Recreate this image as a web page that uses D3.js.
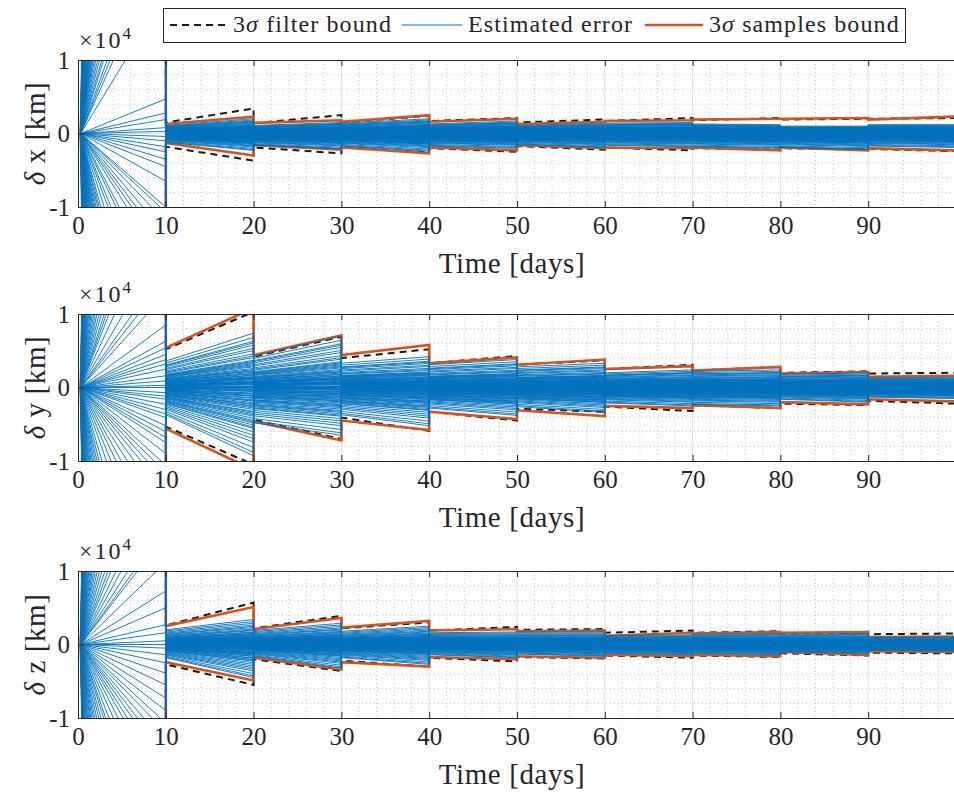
<!DOCTYPE html>
<html>
<head>
<meta charset="utf-8">
<script src="https://cdn.jsdelivr.net/npm/d3@7"></script>
<style>
  body { margin: 0; background: #fff; }
  svg { display: block; }
  text { font-family: "Liberation Serif", "Times New Roman", serif; fill: #262626; }
</style>
</head>
<body>
<svg id="fig" width="954" height="793"></svg>
<script>
// segment limits (measurement update every 10 days)
const days = [0, 10, 20, 30, 40, 50, 60, 70, 80, 90, 100];
const xTicks = [0, 10, 20, 30, 40, 50, 60, 70, 80, 90];
const yTicks = [-1, 0, 1];
const fanStart = 0.3;

// where each sample sits inside the blue band after the first update (-1 .. 1)
const bandPos = [0.05, -0.12, 0.30, -0.40, 0.18, -0.05, 0.62, -0.22, 0.10, -0.70,
  0.42, -0.30, 0.00, 0.25, -0.15, 0.85, -0.50, 0.12, -0.08, 0.35,
  -0.95, 0.20, -0.35, 0.55, -0.02, 0.08, -0.60, 1.00, -0.18, 0.15,
  -0.27, 0.48, -0.10, 0.03, -0.80, 0.28, -0.42, 0.72, -0.06, 0.22,
  -0.55, 0.38, -0.20, 0.92, -1.00, 0.06, -0.32, 0.16, -0.12, 0.50,
  -0.65, 0.02, 0.33, -0.25, 0.78, -0.45, 0.10, -0.88, 0.44, -0.03,
  0.14, -0.16, 0.26, -0.36, 0.07, -0.09, 0.58, -0.24, 0.19, -0.75,
  0.40, -0.28, 0.01, 0.23, -0.13, 0.68, -0.48, 0.11, -0.04, 0.31,
  -0.58, 0.17, -0.38, 0.46, -0.01, 0.09, -0.52, 0.82, -0.19, 0.13,
  -0.29, 0.36, -0.07, 0.04, -0.68, 0.27, -0.44, 0.60, -0.11, 0.21];

// estimated error of each sample at day 10, before the first update (x 1e4 km)
const fanX = [100, 80, 66, 56, 48, 42, 37, 33, 29, 26, 23.5, 21, 19, 17.5, 16, 14.7, 13.5, 12.5,
  11.5, 10.7, 10, 9.3, 8.6, 8, 7.4, 6.8, 6.2, 5.6, 5, 4.5, 4, 3.7, 3.2, 2.9, 2.6, 1.9,
  0.47, 0.28, 0.19, 0.08, 0.03,
  -0.04, -0.1, -0.18, -0.25, -0.35, -0.45, -0.65, -1.0, -1.07, -1.2, -1.37, -1.53, -1.67,
  -1.85, -2.2, -2.4, -2.8, -3.1, -3.6, -4.2, -4.6, -5, -5.5, -6, -6.5, -7, -7.6, -8.2,
  -8.8, -9.5, -10.3, -11.2, -12.2, -13.4, -14.7, -16, -17.5, -19.5, -21.5, -24, -27,
  -30, -34, -39, -45, -52, -62, -75, -90, -110];
const fanY = [100, 80, 66, 55, 46, 39, 33, 28, 24, 21, 18.5, 16.5, 14.5, 13, 11.5, 10.3, 9.2,
  8.2, 7.3, 6.5, 5.8, 5.2, 4.6, 4.1, 3.6, 3.3, 3.0, 2.5, 2.0, 1.64, 1.47, 1.28, 0.85,
  0.63, 0.54, 0.45, 0.38, 0.32, 0.25, 0.16, 0.09, 0.03,
  0.0, -0.07, -0.12, -0.16, -0.23, -0.3, -0.36, -0.41, -0.52, -0.6, -0.68, -0.75, -0.9,
  -1.06, -1.16, -1.28, -1.41, -1.59, -1.82, -2.1, -2.4, -2.8, -3.3, -4, -4.6, -5.2,
  -5.8, -6.5, -7.3, -8.2, -9.2, -10.3, -11.5, -13, -14.5, -16.5, -18.5, -21, -24,
  -28, -33, -39, -46, -55, -66, -80, -100];
const fanZ = [100, 80, 66, 55, 46, 39, 33, 28, 24, 21, 18.5, 16.5, 14.5, 13, 11.5, 10.3, 9.2,
  8.2, 7.3, 6.5, 5.8, 5.1, 4.5, 4, 3.5, 3.1, 2.8, 2.4, 2.1, 1.8, 1.6, 1.5, 1.12,
  0.73, 0.5, 0.27, 0.16, 0.05,
  0.0, -0.05, -0.14, -0.25, -0.39, -0.55, -0.73, -0.9, -1.07, -1.19, -1.35, -1.5,
  -1.64, -1.82, -2, -2.27, -2.6, -3, -3.4, -3.7, -4.2, -4.7, -5.3, -6, -6.7, -7.5,
  -8.4, -9.4, -10.5, -12, -13.5, -15.5, -18, -21, -24, -28, -33, -40, -48, -58,
  -72, -90];

// blue band per segment 10-20 ... 90-100: [top start, top end, bottom start, bottom end]
const bandX = [[0.11, 0.20, -0.12, -0.23], [0.11, 0.15, -0.16, -0.21], [0.14, 0.20, -0.17, -0.24],
  [0.13, 0.17, -0.17, -0.20], [0.11, 0.14, -0.15, -0.19], [0.14, 0.15, -0.16, -0.18],
  [0.13, 0.12, -0.18, -0.20], [0.10, 0.10, -0.19, -0.22], [0.12, 0.12, -0.17, -0.19]];
const bandY = [[0.36, 0.74, -0.37, -0.93], [0.43, 0.70, -0.48, -0.65], [0.33, 0.42, -0.37, -0.52],
  [0.31, 0.38, -0.28, -0.38], [0.28, 0.33, -0.26, -0.34], [0.20, 0.24, -0.21, -0.25],
  [0.22, 0.24, -0.23, -0.25], [0.18, 0.20, -0.16, -0.20], [0.13, 0.14, -0.13, -0.15]];
const bandZ = [[0.20, 0.34, -0.18, -0.45], [0.19, 0.29, -0.16, -0.32], [0.18, 0.25, -0.18, -0.27],
  [0.16, 0.17, -0.14, -0.18], [0.17, 0.17, -0.13, -0.16], [0.12, 0.13, -0.12, -0.14],
  [0.14, 0.15, -0.12, -0.14], [0.14, 0.15, -0.10, -0.12], [0.10, 0.10, -0.08, -0.09]];

// 3 sigma bounds per segment 0-10 ... 90-100: [upper start, upper end, lower start, lower end]
const samplesX = [[0, 40, 0, -40], [0.13, 0.23, -0.13, -0.30], [0.145, 0.18, -0.16, -0.22], [0.16, 0.25, -0.19, -0.27],
  [0.16, 0.20, -0.19, -0.23], [0.13, 0.16, -0.16, -0.20], [0.17, 0.18, -0.19, -0.20],
  [0.19, 0.20, -0.19, -0.23], [0.20, 0.21, -0.19, -0.23], [0.19, 0.23, -0.20, -0.23]];
const filterX = [[0, 45, 0, -45], [0.15, 0.34, -0.18, -0.37], [0.14, 0.25, -0.19, -0.27], [0.15, 0.24, -0.18, -0.26],
  [0.17, 0.21, -0.20, -0.25], [0.15, 0.19, -0.17, -0.22], [0.17, 0.21, -0.19, -0.23],
  [0.18, 0.21, -0.20, -0.22], [0.19, 0.20, -0.20, -0.22], [0.20, 0.21, -0.21, -0.24]];
const samplesY = [[0, 40, 0, -40], [0.54, 1.08, -0.56, -1.12], [0.44, 0.71, -0.46, -0.72], [0.44, 0.58, -0.45, -0.58],
  [0.33, 0.41, -0.33, -0.43], [0.31, 0.38, -0.31, -0.39], [0.25, 0.29, -0.25, -0.28],
  [0.23, 0.28, -0.24, -0.28], [0.19, 0.21, -0.20, -0.23], [0.145, 0.16, -0.16, -0.19]];
const filterY = [[0, 45, 0, -45], [0.52, 1.03, -0.53, -1.05], [0.42, 0.69, -0.44, -0.70], [0.40, 0.52, -0.41, -0.59],
  [0.33, 0.43, -0.33, -0.45], [0.31, 0.37, -0.29, -0.33], [0.25, 0.31, -0.26, -0.32],
  [0.23, 0.28, -0.24, -0.28], [0.20, 0.22, -0.22, -0.24], [0.19, 0.20, -0.18, -0.22]];
const samplesZ = [[0, 40, 0, -40], [0.25, 0.51, -0.24, -0.49], [0.21, 0.36, -0.18, -0.34], [0.23, 0.32, -0.24, -0.30],
  [0.19, 0.21, -0.17, -0.20], [0.18, 0.19, -0.16, -0.18], [0.12, 0.16, -0.14, -0.16],
  [0.15, 0.17, -0.14, -0.16], [0.16, 0.17, -0.10, -0.14], [0.10, 0.11, -0.09, -0.10]];
const filterZ = [[0, 45, 0, -45], [0.26, 0.57, -0.27, -0.55], [0.22, 0.39, -0.20, -0.36], [0.22, 0.30, -0.22, -0.30],
  [0.19, 0.24, -0.18, -0.23], [0.20, 0.21, -0.17, -0.19], [0.16, 0.19, -0.15, -0.18],
  [0.16, 0.18, -0.15, -0.17], [0.15, 0.16, -0.12, -0.15], [0.14, 0.15, -0.11, -0.12]];

const panels = [
  { label: "x", fan: fanX, band: bandX, samples: samplesX, filter: filterX, top: 60 },
  { label: "y", fan: fanY, band: bandY, samples: samplesY, filter: filterY, top: 314 },
  { label: "z", fan: fanZ, band: bandZ, samples: samplesZ, filter: filterZ, top: 571 }
];

const blue = "#0072BD";
const orange = "#D95319";
const axisColor = "#262626";
const plotH = 147;

const svg = d3.select("#fig");
const x = d3.scaleLinear().domain([0, 100]).range([78, 956]);

// polyline of a bound, continuous through the jumps at each update
function boundPoints(bound, side) {
  const pts = [];
  bound.forEach((b, k) => {
    const t0 = k === 0 ? fanStart : days[k];
    pts.push([t0, side > 0 ? b[0] : b[2]]);
    pts.push([days[k + 1], side > 0 ? b[1] : b[3]]);
  });
  return pts;
}

function samplePoints(p, i) {
  const pos = bandPos[i % bandPos.length];
  const pts = [[fanStart, 0], [days[1], p.fan[i]]];
  p.band.forEach((b, k) => {
    const s = pos >= 0 ? pos * b[0] : -pos * b[2];
    const e = pos >= 0 ? pos * b[1] : -pos * b[3];
    pts.push([days[k + 1], s]);
    pts.push([days[k + 2], e]);
  });
  return pts;
}

panels.forEach((p, pi) => {
  const y = d3.scaleLinear().domain([-1, 1]).range([p.top + plotH, p.top]);
  const g = svg.append("g");
  const line = d3.line().x((d) => x(d[0])).y((d) => y(d[1]));

  g.append("clipPath").attr("id", "clip" + pi)
    .append("rect").attr("x", 78).attr("y", p.top).attr("width", 878).attr("height", plotH);

  // minor grid
  const minorX = d3.range(2, 100, 2).filter((d) => d % 10 !== 0);
  const minorY = [-0.8, -0.6, -0.4, -0.2, 0.2, 0.4, 0.6, 0.8];
  g.selectAll(".mx").data(minorX).join("line")
    .attr("x1", (d) => x(d)).attr("x2", (d) => x(d))
    .attr("y1", p.top).attr("y2", p.top + plotH)
    .attr("stroke", "#c8c8c8").attr("stroke-width", 1).attr("stroke-dasharray", "1,3");
  g.selectAll(".my").data(minorY).join("line")
    .attr("x1", 78).attr("x2", 956)
    .attr("y1", (d) => y(d)).attr("y2", (d) => y(d))
    .attr("stroke", "#c8c8c8").attr("stroke-width", 1).attr("stroke-dasharray", "1,3");
  // major grid
  g.selectAll(".gx").data(xTicks.slice(1)).join("line")
    .attr("x1", (d) => x(d)).attr("x2", (d) => x(d))
    .attr("y1", p.top).attr("y2", p.top + plotH)
    .attr("stroke", "#dedede").attr("stroke-width", 1);
  g.append("line")
    .attr("x1", 78).attr("x2", 956).attr("y1", y(0)).attr("y2", y(0))
    .attr("stroke", "#dedede").attr("stroke-width", 1);

  const plot = g.append("g").attr("clip-path", "url(#clip" + pi + ")");

  // filter bound (drawn first, sits under the rest)
  [1, -1].forEach((side) => {
    plot.append("path").attr("d", line(boundPoints(p.filter, side)))
      .attr("fill", "none").attr("stroke", "#1a1a1a").attr("stroke-width", 2)
      .attr("stroke-dasharray", "7,5");
  });

  // samples bound
  [1, -1].forEach((side) => {
    plot.append("path").attr("d", line(boundPoints(p.samples, side)))
      .attr("fill", "none").attr("stroke", orange).attr("stroke-width", 2.6);
  });

  // estimated errors
  plot.selectAll(".sample").data(p.fan.map((f, i) => samplePoints(p, i))).join("path")
    .attr("d", line).attr("fill", "none")
    .attr("stroke", blue).attr("stroke-width", 0.9);

  // axes
  const xAxis = g.append("g").attr("transform", `translate(0,${p.top + plotH})`)
    .call(d3.axisBottom(x).tickValues(xTicks).tickSizeInner(-6).tickSizeOuter(0).tickPadding(9));
  g.append("g").attr("transform", `translate(0,${p.top})`)
    .call(d3.axisTop(x).tickValues(xTicks).tickFormat("").tickSizeInner(-6).tickSizeOuter(0));
  const yAxis = g.append("g").attr("transform", "translate(78,0)")
    .call(d3.axisLeft(y).tickValues(yTicks).tickFormat((d) => (d < 0 ? "-1" : d)).tickSizeInner(-6).tickSizeOuter(0).tickPadding(8));
  g.selectAll(".domain, .tick line").attr("stroke", axisColor).attr("stroke-width", 1);
  xAxis.selectAll("text").attr("font-size", 25).attr("fill", axisColor);
  yAxis.selectAll("text").attr("font-size", 25).attr("fill", axisColor);

  // exponent
  const ex = g.append("text").attr("x", 79).attr("y", p.top - 12).attr("font-size", 24).attr("letter-spacing", 2);
  ex.append("tspan").text("×10");
  ex.append("tspan").attr("font-size", 17).attr("dy", -9).text("4");

  // labels
  g.append("text").attr("x", 512).attr("y", p.top + plotH + 66)
    .attr("text-anchor", "middle").attr("font-size", 29).attr("letter-spacing", 0.6)
    .text("Time [days]");
  const yl = g.append("text")
    .attr("transform", `translate(45,${p.top + plotH / 2}) rotate(-90)`)
    .attr("text-anchor", "middle").attr("font-size", 29).attr("letter-spacing", 0.6);
  yl.append("tspan").attr("font-style", "italic").text("δ");
  yl.append("tspan").text(" " + p.label + " [km]");
});

// legend
const legendItems = [
  { x0: 170, x1: 226, tx: 233, color: "#1a1a1a", dash: "7,5", w: 2, text: "filter bound", sigma: true },
  { x0: 402, x1: 462, tx: 468, color: blue, dash: null, w: 1, text: "Estimated error", sigma: false },
  { x0: 645, x1: 703, tx: 709, color: orange, dash: null, w: 2.6, text: "samples bound", sigma: true }
];
const lg = svg.append("g");
lg.append("rect").attr("x", 163.5).attr("y", 8.5).attr("width", 742).attr("height", 34)
  .attr("fill", "#fff").attr("stroke", axisColor).attr("stroke-width", 1);
legendItems.forEach((d) => {
  lg.append("line").attr("x1", d.x0).attr("x2", d.x1).attr("y1", 25).attr("y2", 25)
    .attr("stroke", d.color).attr("stroke-width", d.w).attr("stroke-dasharray", d.dash);
  const t = lg.append("text").attr("x", d.tx).attr("y", 32).attr("font-size", 24).attr("letter-spacing", 1.1);
  if (d.sigma) {
    t.append("tspan").text("3");
    t.append("tspan").attr("font-style", "italic").text("σ");
    t.append("tspan").text(" " + d.text);
  } else {
    t.text(d.text);
  }
});
</script>
</body>
</html>
